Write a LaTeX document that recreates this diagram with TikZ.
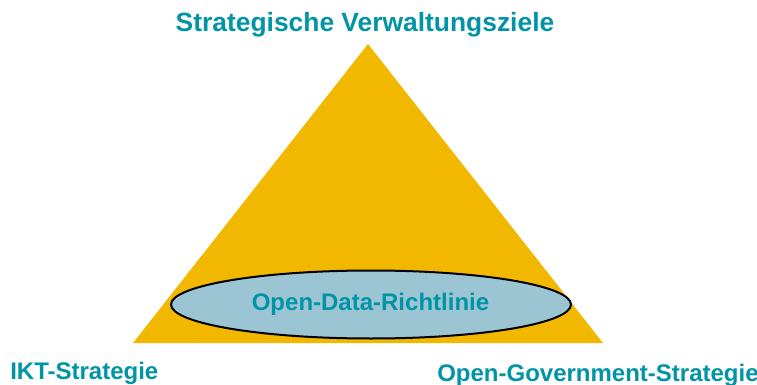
\documentclass[tikz,border=0pt]{standalone}
\usepackage{fontspec}
\setmainfont{Liberation Sans}
\usetikzlibrary{shapes.geometric}

\definecolor{tealtext}{RGB}{0,148,166}
\definecolor{pyramidgold}{RGB}{242,184,0}
\definecolor{ellipseblue}{RGB}{155,197,211}

\begin{document}
\begin{tikzpicture}[x=0.75pt,y=-0.75pt,
  goaltext/.style={text=tealtext, font=\fontsize{18pt}{21pt}\selectfont\bfseries, inner sep=0pt}]

\useasboundingbox (0,0) rectangle (757,385);

% Triangle
\coordinate (apex) at (368,44);
\coordinate (baseleft) at (133,343);
\coordinate (baseright) at (603,343);
\fill[pyramidgold] (apex) -- (baseleft) -- (baseright) -- cycle;

% Ellipse with Open-Data
\node[draw, ellipse, line width=1.5pt, fill=ellipseblue, minimum width=300pt, minimum height=51pt, inner sep=0pt] (odr) at (371,304.5) {};
\node[goaltext, anchor=base] (odrtext) at (370.5,310.5) {Open-Data-Richtlinie};

% Labels
\node[goaltext, anchor=base, font=\fontsize{19.8pt}{23pt}\selectfont\bfseries] (top) at (365,31.5) {Strategische Verwaltungsziele};
\node[goaltext, anchor=base west] (ikt) at (10,379) {IKT-Strategie};
\node[goaltext, anchor=base west] (ogov) at (437,381) {Open-Government-Strategie};
\end{tikzpicture}
\end{document}
